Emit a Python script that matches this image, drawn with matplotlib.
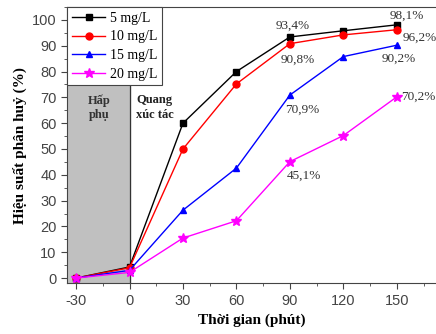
import matplotlib.pyplot as plt
from matplotlib.ticker import MultipleLocator

# thoi gian (phut) va hieu suat phan huy (%)
time = [-30, 0, 30, 60, 90, 120, 150]
c5 = [0, 4.3, 60, 80, 93.4, 95.8, 98.1]
c10 = [0, 4, 50, 75.2, 90.8, 94.2, 96.2]
c15 = [0, 3, 26.3, 42.6, 70.9, 85.8, 90.2]
c20 = [0, 2.2, 15.5, 22.2, 45.1, 55.2, 70.2]

labels = ["5 mg/L", "10 mg/L", "15 mg/L", "20 mg/L"]

serif = "Liberation Serif"
sans = "Liberation Sans"
plt.rcParams["axes.unicode_minus"] = False

fig = plt.figure(figsize=(4.36, 3.34), dpi=100)
ax = fig.add_axes([0.154, 0.152, 0.846, 0.827])

# vung hap phu
ax.axvspan(-40, 0, color="#c0c0c0", zorder=0)
ax.axvline(0, color="#333333", lw=0.9, zorder=1)

ax.plot(time, c5, "-s", color="black", ms=4.5, lw=1, label=labels[0])
ax.plot(time, c10, "-o", color="red", ms=5, lw=1, label=labels[1])
ax.plot(time, c15, "-^", color="blue", ms=5, lw=1, label=labels[2])
ax.plot(time, c20, "-*", color="magenta", ms=7.5, lw=1, label=labels[3])

ax.set_xlim(-35, 172)
ax.set_ylim(-2, 105)
ax.set_xticks([-30, 0, 30, 60, 90, 120, 150])
ax.set_yticks(range(0, 101, 10))
ax.xaxis.set_minor_locator(MultipleLocator(15))
ax.yaxis.set_minor_locator(MultipleLocator(5))
ax.tick_params(which="both", direction="out", color="#444444",
               labelcolor="#444444", labelsize=10.5)
ax.tick_params(which="major", length=4)
ax.tick_params(which="minor", length=2.5)
for lab in ax.get_xticklabels() + ax.get_yticklabels():
    lab.set_fontfamily(sans)
ax.spines["right"].set_visible(False)
for s in ["left", "bottom", "top"]:
    ax.spines[s].set_color("#444444")

ax.set_xlabel("Thời gian (phút)", fontfamily=serif, fontweight="bold", fontsize=11)
ax.set_ylabel("Hiệu suất phân huỷ (%)", fontfamily=serif, fontweight="bold", fontsize=11)

ax.text(-17, 66, "Hấp\nphụ", ha="center", va="center", fontfamily=serif,
        fontweight="bold", fontsize=9, color="#333333", linespacing=1.3)
ax.text(14, 66, "Quang\nxúc tác", ha="center", va="center", fontfamily=serif,
        fontweight="bold", fontsize=9, color="#222222", linespacing=1.3)

ann = dict(fontfamily=serif, fontsize=9.5, color="#333333", va="center")
ax.text(91.5, 97.8, "93,4%", ha="center", **ann)
ax.text(155.5, 101.5, "98,1%", ha="center", **ann)
ax.text(94.5, 84.6, "90,8%", ha="center", **ann)
ax.text(153, 93, "96,2%", ha="left", clip_on=False, **ann)
ax.text(151, 84.9, "90,2%", ha="center", **ann)
ax.text(97, 65.2, "70,9%", ha="center", **ann)
ax.text(152.5, 70.4, "70,2%", ha="left", **ann)
ax.text(98, 39.7, "45,1%", ha="center", **ann)

leg = ax.legend(loc="upper left", bbox_to_anchor=(0, 1), borderaxespad=0,
                prop={"family": serif, "size": 10}, fancybox=False,
                framealpha=1, edgecolor="#444444", handlelength=2.4,
                labelspacing=0.4, borderpad=0.35, handletextpad=0.3)
leg.get_frame().set_linewidth(0.8)

fig.savefig("out.png", dpi=100)
